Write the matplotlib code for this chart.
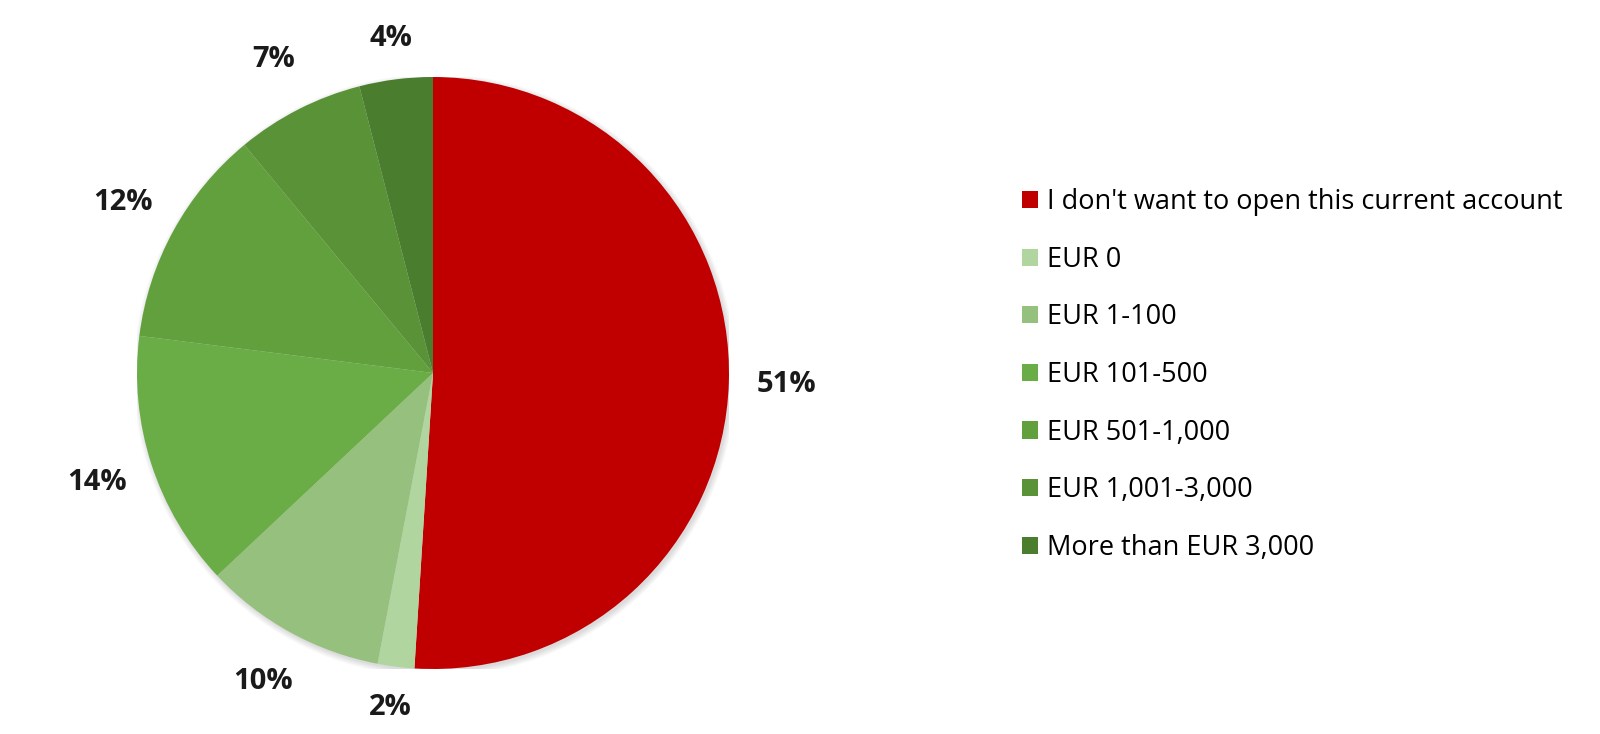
import matplotlib
matplotlib.use("Agg")
import matplotlib.pyplot as plt
from matplotlib.patches import Circle
import numpy as np

categories = ["I don't want to open this current account", "EUR 0", "EUR 1-100",
              "EUR 101-500", "EUR 501-1,000", "EUR 1,001-3,000", "More than EUR 3,000"]
values = [51, 2, 10, 14, 12, 7, 4]
colors = ["#C00000", "#B0D59F", "#96C07D", "#6AAC46", "#62A03E", "#5A9337", "#4B7D2E"]

plt.rcParams['font.family'] = ['Open Sans', 'DejaVu Sans']

W, H = 1600, 734
cx, cy, R = 433, 373, 296
fig = plt.figure(figsize=(16, 7.34), dpi=100)
ax = fig.add_axes([(cx - R) / W, (H - cy - R) / H, 2 * R / W, 2 * R / H])

# faint soft shadow around the pie
for rr in np.linspace(1.018, 1.0, 6):
    ax.add_patch(Circle((0.006, -0.008), rr, facecolor='#000000', alpha=0.025,
                        linewidth=0, zorder=0))

wedges, texts, autotexts = ax.pie(
    values, colors=colors, startangle=90, counterclock=False,
    autopct=lambda p: f"{p:.0f}%", pctdistance=1.195,
    wedgeprops=dict(linewidth=0, zorder=2),
    textprops=dict(fontsize=21, fontweight='bold', color='#1a1a1a'))
ax.set_xlim(-1, 1)
ax.set_ylim(-1, 1)
ax.set_aspect('equal')

# labels near the vertical sit a little closer to the pie (Excel-like)
for w, t in zip(wedges, autotexts):
    th = np.deg2rad((w.theta1 + w.theta2) / 2.0)
    c, s = np.cos(th), np.sin(th)
    r = 1.195 - 0.065 * abs(s) ** 20
    t.set_position((r * c, r * s))

fig.legend(wedges, categories, loc='upper left', bbox_to_anchor=(1022 / W, 1 - 188 / H),
           frameon=False, fontsize=19.5, labelspacing=1.095, handlelength=0.6,
           handleheight=0.6, handletextpad=0.32, borderaxespad=0, borderpad=0)

fig.savefig("out.png", dpi=100, facecolor='white')
